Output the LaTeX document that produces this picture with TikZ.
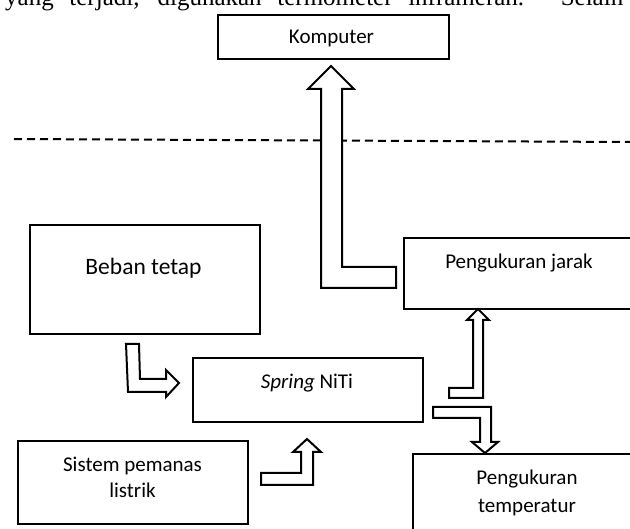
\documentclass[tikz,border=0pt]{standalone}
\usepackage{fontspec}
\setmainfont{Carlito}
\newfontfamily\bodyserif{Liberation Serif}
\begin{document}
\begin{tikzpicture}[x=1pt,y=-1pt,
  box/.style={draw=black,line width=2pt,fill=white,rectangle,inner sep=0pt,anchor=north west},
  lbl/.style={inner sep=0pt,anchor=base,font=\fontsize{21}{25}\selectfont},
  bigarrow/.style={draw=black,line width=2pt,fill=white,line join=miter}]
\useasboundingbox (0,0) rectangle (630,529);
\clip (0,0) rectangle (630,529);
% cut-off body text line at top
\node[inner sep=0pt,anchor=base west,font=\bodyserif\fontsize{25}{30}\selectfont] (bodytext) at (5,5.5)
  {\makebox[618pt][s]{yang terjadi, digunakan termometer inframerah. Selain}};
% boxes
\node[box,minimum width=231pt,minimum height=44pt] (komp) at (217,14) {};
\node[box,minimum width=230pt,minimum height=109pt] (beban) at (29,224) {};
\node[box,minimum width=240pt,minimum height=71pt] (jarak) at (403,237) {};
\node[box,minimum width=230pt,minimum height=64pt] (spring) at (192,357) {};
\node[box,minimum width=230pt,minimum height=83pt] (sistem) at (17,440) {};
\node[box,minimum width=240pt,minimum height=90pt] (temp) at (412,453) {};
% labels
\node[lbl] (kompt) at (331.5,44) {Komputer};
\node[lbl,font=\fontsize{23.5}{28}\selectfont] (bebant) at (143.5,275) {Beban tetap};
\node[lbl] (jarakt) at (519,269) {Pengukuran jarak};
\node[lbl] (springt) at (307,389) {\textit{Spring} NiTi};
\node[lbl] (sistemt1) at (132.5,472) {Sistem pemanas};
\node[lbl] (sistemt2) at (132.5,498) {listrik};
\node[lbl] (tempt1) at (527,485) {Pengukuran};
\node[lbl] (tempt2) at (527,513) {temperatur};
% dashed separator
\coordinate (dashL) at (14,139);
\coordinate (dashR) at (630,142);
\draw[line width=2pt,dash pattern=on 8pt off 5pt] (dashL) -- (dashR);
% block arrows
% Pengukuran jarak -> Komputer
\draw[bigarrow] (331,66) -- (354,89) -- (342,89) -- (342,267) -- (396,267) -- (396,288)
  -- (321,288) -- (321,89) -- (308,89) -- cycle;
% Spring -> Pengukuran jarak
\draw[bigarrow] (478,309) -- (489,320) -- (483,320) -- (483,398) -- (449,398) -- (449,388)
  -- (473,388) -- (473,320) -- (467,320) -- cycle;
% Spring -> Pengukuran temperatur
\draw[bigarrow] (433,407) -- (491,407) -- (491,442) -- (498,442) -- (485,453) -- (472,442)
  -- (480,442) -- (480,418) -- (433,418) -- cycle;
% Beban -> Spring
\draw[bigarrow] (126,344) -- (139,344) -- (140,379) -- (166,379) -- (166,370) -- (179,383)
  -- (166,397) -- (166,392) -- (128,392) -- cycle;
% Sistem -> Spring
\draw[bigarrow] (261,473) -- (301,473) -- (301,452) -- (293,452) -- (307,439) -- (321,452)
  -- (313,452) -- (313,485) -- (261,485) -- cycle;
\end{tikzpicture}
\end{document}
